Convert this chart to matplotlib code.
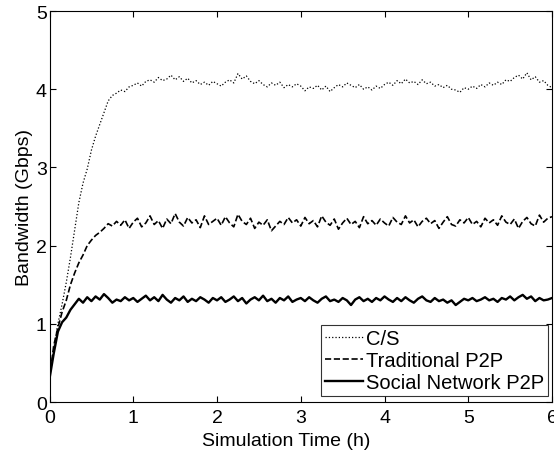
import numpy as np
import matplotlib
matplotlib.use('Agg')
import matplotlib.pyplot as plt

plt.rcParams['font.family'] = ['Liberation Sans', 'DejaVu Sans']

time_h = np.arange(0, 6.001, 0.05)

cs = [0.30, 0.68, 1.00, 1.25, 1.53, 1.85, 2.20, 2.55, 2.80, 2.98, 3.22, 3.40, 3.55, 3.70, 3.85, 3.92, 3.95, 3.99, 3.97, 4.03, 4.05,
      4.08, 4.04, 4.10, 4.12, 4.09, 4.15, 4.11, 4.13, 4.18, 4.12, 4.16, 4.10, 4.14, 4.08, 4.11, 4.06, 4.09, 4.05, 4.10, 4.07,
      4.04, 4.09, 4.12, 4.08, 4.20, 4.13, 4.17, 4.10, 4.07, 4.11, 4.06, 4.03, 4.08, 4.05, 4.09, 4.02, 4.06, 4.03, 4.07, 4.04,
      3.98, 4.03, 4.01, 4.05, 3.99, 4.04, 3.97, 4.02, 4.06, 4.03, 4.08, 4.05, 4.02, 4.06, 4.00, 4.03, 3.99, 4.04, 4.01, 4.06,
      4.09, 4.05, 4.11, 4.07, 4.13, 4.08, 4.10, 4.06, 4.12, 4.07, 4.09, 4.04, 4.06, 4.02, 4.05, 4.00, 3.99, 3.96, 4.02, 4.00,
      4.04, 4.01, 4.06, 4.03, 4.08, 4.05, 4.09, 4.06, 4.12, 4.10, 4.15, 4.18, 4.13, 4.21, 4.12, 4.16, 4.09, 4.11, 4.05, 4.02]

trad_p2p = [0.30, 0.72, 0.95, 1.15, 1.30, 1.50, 1.65, 1.78, 1.88, 2.00, 2.07, 2.13, 2.17, 2.22, 2.28, 2.25, 2.31, 2.26, 2.33, 2.22, 2.30,
            2.35, 2.24, 2.29, 2.38, 2.27, 2.32, 2.22, 2.34, 2.28, 2.41, 2.30, 2.25, 2.36, 2.29, 2.33, 2.23, 2.38, 2.27, 2.31, 2.35,
            2.26, 2.37, 2.29, 2.24, 2.40, 2.31, 2.27, 2.35, 2.22, 2.30, 2.26, 2.33, 2.19, 2.25, 2.31, 2.27, 2.36, 2.29, 2.33, 2.25,
            2.36, 2.28, 2.32, 2.24, 2.38, 2.30, 2.26, 2.34, 2.21, 2.29, 2.35, 2.27, 2.31, 2.23, 2.37, 2.28, 2.32, 2.26, 2.34, 2.29,
            2.25, 2.36, 2.30, 2.27, 2.38, 2.29, 2.33, 2.24, 2.31, 2.35, 2.28, 2.32, 2.22, 2.30, 2.37, 2.27, 2.25, 2.33, 2.29, 2.36,
            2.27, 2.31, 2.24, 2.35, 2.29, 2.33, 2.26, 2.38, 2.30, 2.27, 2.34, 2.22, 2.31, 2.36, 2.28, 2.25, 2.39, 2.30, 2.35, 2.37]

social_p2p = [0.30, 0.62, 0.90, 1.02, 1.08, 1.18, 1.25, 1.32, 1.27, 1.34, 1.29, 1.35, 1.31, 1.38, 1.33, 1.27, 1.31, 1.29, 1.34, 1.30, 1.33,
              1.28, 1.32, 1.36, 1.30, 1.34, 1.29, 1.37, 1.31, 1.27, 1.33, 1.30, 1.35, 1.28, 1.32, 1.29, 1.34, 1.31, 1.27, 1.33, 1.30,
              1.34, 1.28, 1.31, 1.35, 1.29, 1.33, 1.26, 1.31, 1.34, 1.30, 1.36, 1.29, 1.32, 1.27, 1.33, 1.30, 1.35, 1.28, 1.31, 1.33,
              1.29, 1.34, 1.30, 1.27, 1.32, 1.35, 1.29, 1.31, 1.28, 1.33, 1.30, 1.24, 1.31, 1.34, 1.29, 1.32, 1.28, 1.33, 1.30, 1.35,
              1.31, 1.28, 1.33, 1.29, 1.34, 1.30, 1.27, 1.32, 1.35, 1.30, 1.28, 1.33, 1.29, 1.31, 1.27, 1.30, 1.24, 1.28, 1.32, 1.30,
              1.33, 1.29, 1.31, 1.34, 1.30, 1.32, 1.28, 1.33, 1.31, 1.35, 1.30, 1.34, 1.37, 1.32, 1.35, 1.29, 1.33, 1.30, 1.31, 1.33]

labels = ['C/S', 'Traditional P2P', 'Social Network P2P']

# PLOT

fig = plt.figure(figsize=(5.54, 4.52), dpi=100)
ax = fig.add_axes([0.0894, 0.1084, 0.907, 0.865])

ax.plot(time_h, cs, color='black', linestyle=':', linewidth=0.9, label=labels[0])
ax.plot(time_h, trad_p2p, color='black', linestyle='--', linewidth=1.2, label=labels[1])
ax.plot(time_h, social_p2p, color='black', linestyle='-', linewidth=1.7, label=labels[2])

ax.set_xlim(0, 6)
ax.set_ylim(0, 5)
ax.set_xticks(range(0, 7))
ax.set_yticks(range(0, 6))
ax.tick_params(direction='in', length=4, width=0.8, top=True, right=True,
               labelsize=14)
ax.tick_params(axis='x', pad=5)
ax.tick_params(axis='y', pad=2)
for s in ax.spines.values():
    s.set_linewidth(0.8)

ax.set_xlabel('Simulation Time (h)', fontsize=14)
ax.set_ylabel('Bandwidth (Gbps)', fontsize=14, labelpad=2)
ax.xaxis.set_label_coords(0.47, -0.078)

leg = ax.legend(loc='lower right', bbox_to_anchor=(0.992, 0.015), borderaxespad=0,
                fontsize=14.5, frameon=True, fancybox=False, edgecolor='black',
                handlelength=1.9, handletextpad=0.15, labelspacing=0.15,
                borderpad=0.2)
leg.get_frame().set_linewidth(0.8)

plt.savefig('out.png', dpi=100)
